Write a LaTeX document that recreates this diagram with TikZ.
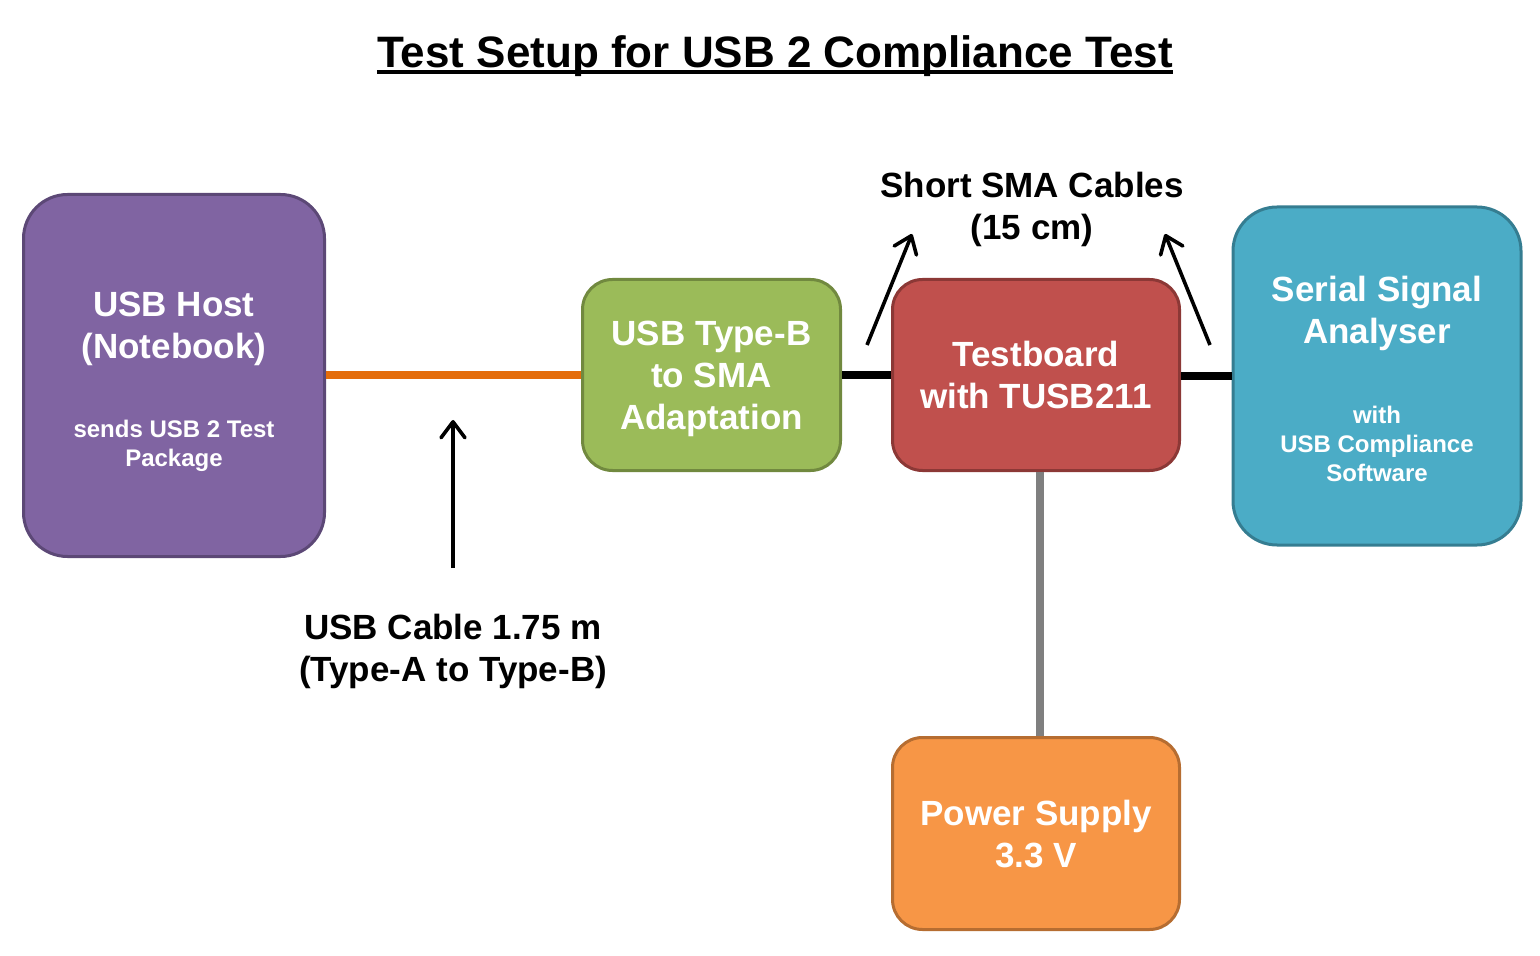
\documentclass[tikz,border=0pt]{standalone}
\usepackage{fontspec}
\setmainfont{Liberation Sans}
\usepackage{tikz}
\usetikzlibrary{positioning, arrows.meta}
\definecolor{hostfill}{HTML}{8064A2}
\definecolor{hostline}{HTML}{5C4876}
\definecolor{adapterfill}{HTML}{9BBB59}
\definecolor{adapterline}{HTML}{71893F}
\definecolor{boardfill}{HTML}{C0504D}
\definecolor{boardline}{HTML}{8C3836}
\definecolor{analyserfill}{HTML}{4BACC6}
\definecolor{analyserline}{HTML}{357D91}
\definecolor{supplyfill}{HTML}{F79646}
\definecolor{supplyline}{HTML}{B66D31}
\definecolor{usborange}{HTML}{E46C0A}
\definecolor{powergray}{HTML}{7F7F7F}
\tikzset{
  block/.style={draw, line width=1.5pt, rounded corners=15pt, text=white, align=center,
    inner sep=0pt, text depth=0pt, font=\fontsize{17.5}{21}\selectfont\bfseries},
  note/.style={align=center, inner sep=0pt, font=\fontsize{17.5}{21}\selectfont\bfseries},
  cable/.style={line width=4pt},
  pointer/.style={line width=1.8pt, -{Straight Barb[length=8pt,width=12pt,round]}},
}

\begin{document}
\begin{tikzpicture}[x=0.5pt, y=-0.5pt]
	\useasboundingbox (0,0) rectangle (1540,956);
	\node[inner sep=0pt, anchor=base, font=\fontsize{22}{26}\selectfont\bfseries] (title) at (775,68) {Test Setup for USB 2 Compliance Test};
	\draw[line width=2pt] ([yshift=-2.25pt]title.base west) -- ([yshift=-2.25pt]title.base east);
	\node[block, fill=hostfill, draw=hostline, minimum width=150.5pt, minimum height=181pt, rounded corners=22pt] (host) at (174,375.5)
		{\rule{0pt}{16pt}USB Host\\(Notebook)\\[18.5pt]{\fontsize{12}{14.5}\selectfont sends USB 2 Test}\\[-6.5pt]{\fontsize{12}{14.5}\selectfont Package}};
	\node[block, fill=adapterfill, draw=adapterline, minimum width=129pt, minimum height=95.5pt] (adapter) at (711.5,375) {USB Type-B\\to SMA\\Adaptation};
	\node[block, fill=boardfill, draw=boardline, minimum width=143.5pt, minimum height=95.5pt] (board) at (1036,375) {Testboard\\with TUSB211};
	\node[block, fill=analyserfill, draw=analyserline, minimum width=144pt, minimum height=169pt, rounded corners=22pt] (analyser) at (1377,376)
		{\rule{0pt}{15.5pt}Serial Signal\\Analyser\\[19pt]{\fontsize{12}{14.5}\selectfont with}\\[-6.5pt]{\fontsize{12}{14.5}\selectfont USB Compliance}\\[-6.5pt]{\fontsize{12}{14.5}\selectfont Software}};
	\node[block, fill=supplyfill, draw=supplyline, minimum width=143.5pt, minimum height=96pt] (supply) at (1036,833.5) {Power Supply\\3.3 V};
	\draw[cable, usborange] (host.east) -- (host.east -| adapter.west);
	\draw[cable] (adapter.east) -- (adapter.east -| board.west);
	\draw[cable] ([yshift=-0.5pt]board.east) -- ([yshift=-0.5pt]board.east -| analyser.west);
	\draw[cable, powergray] ([xshift=2pt]board.south) -- ([xshift=2pt]supply.north);
	\node[note] (cablenote) at (453,651) {USB Cable 1.75 m\\(Type-A to Type-B)};
	\node[note] (smanote) at (1032,209.5) {Short SMA Cables\\(15 cm)};
	\coordinate (cabletail) at (453,568);
	\coordinate (cabletip) at (453,420);
	\coordinate (smalefttail) at (867,345);
	\coordinate (smalefttip) at (912,234);
	\coordinate (smarighttail) at (1210,345);
	\coordinate (smarighttip) at (1165,234);
	\draw[pointer] (cabletail) -- (cabletip);
	\draw[pointer] (smalefttail) -- (smalefttip);
	\draw[pointer] (smarighttail) -- (smarighttip);
\end{tikzpicture}
\end{document}
